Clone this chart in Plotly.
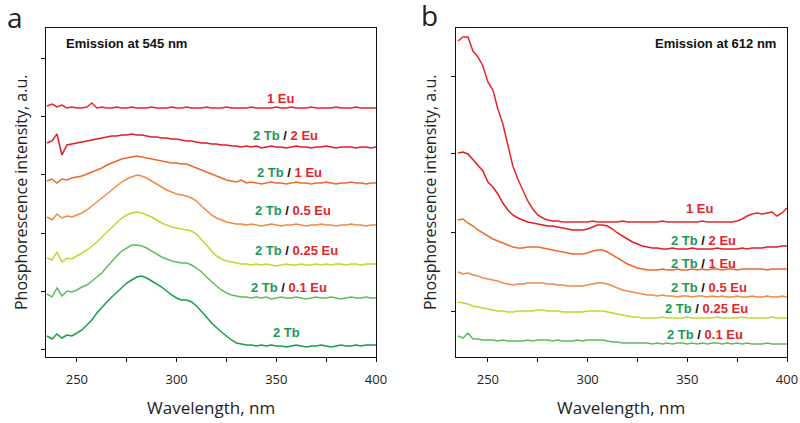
import plotly.graph_objects as go

# Shared excitation wavelength grid (nm)
wavelength = [235, 237.5, 240, 242.5, 245, 247.5, 250, 252.5, 255, 257.5,
              260, 262.5, 265, 267.5, 270, 272.5, 275, 277.5, 280, 282.5,
              285, 287.5, 290, 292.5, 295, 297.5, 300, 302.5, 305, 307.5,
              310, 312.5, 315, 317.5, 320, 322.5, 325, 327.5, 330, 332.5,
              335, 337.5, 340, 342.5, 345, 347.5, 350, 352.5, 355, 357.5,
              360, 362.5, 365, 367.5, 370, 372.5, 375, 377.5, 380, 382.5,
              385, 387.5, 390, 392.5, 395, 397.5, 400]

# Panel a: emission at 545 nm (offset traces, a.u.)
a_1Eu = [251, 253, 250, 252, 249, 250, 249, 249, 250, 254,
         249, 250, 249, 249, 250, 249, 249, 250, 249, 249,
         249, 250, 249, 249, 249, 250, 249, 249, 250, 249,
         249, 249, 250, 249, 249, 249, 250, 249, 249, 249,
         249, 250, 249, 249, 249, 249, 250, 249, 249, 250,
         249, 249, 249, 250, 249, 249, 249, 249, 250, 249,
         249, 249, 250, 249, 249, 249, 249]
a_2Tb_2Eu = [214, 216, 223, 202, 212, 213, 214, 215, 216, 217,
             218, 219, 220, 221, 221, 222, 222, 223, 222, 222,
             221, 220, 220, 219, 219, 218, 218, 217, 216, 216,
             215, 214, 214, 213, 213, 212, 212, 211, 211, 210,
             211, 210, 211, 209, 210, 211, 210, 210, 209, 210,
             211, 210, 210, 209, 210, 210, 211, 210, 209, 210,
             210, 210, 209, 210, 210, 209, 210]
a_2Tb_1Eu = [176, 178, 174, 178, 177, 179, 180, 181, 183, 185,
             187, 189, 192, 194, 196, 198, 199, 200, 201, 200,
             199, 198, 197, 196, 195, 194, 194, 193, 193, 191,
             189, 187, 185, 183, 181, 179, 177, 176, 175, 177,
             174, 175, 174, 173, 174, 175, 174, 174, 173, 174,
             175, 174, 174, 173, 174, 174, 175, 174, 173, 174,
             174, 175, 174, 174, 173, 174, 174]
a_2Tb_05Eu = [140, 137, 143, 139, 141, 140, 142, 144, 147, 151,
              155, 159, 163, 167, 171, 175, 178, 180, 182, 181,
              179, 176, 173, 170, 167, 165, 163, 162, 161, 159,
              156, 151, 146, 142, 139, 137, 135, 134, 133, 133,
              132, 133, 132, 131, 132, 133, 132, 131, 132, 132,
              133, 132, 131, 132, 132, 133, 132, 132, 131, 132,
              132, 133, 132, 132, 131, 132, 132]
a_2Tb_025Eu = [99, 97, 105, 95, 99, 98, 101, 104, 107, 111,
               115, 120, 125, 130, 135, 139, 142, 144, 145, 144,
               142, 140, 137, 134, 132, 130, 129, 128, 127, 126,
               123, 118, 112, 106, 101, 98, 96, 95, 94, 93,
               93, 92, 93, 92, 93, 92, 91, 92, 93, 92,
               92, 93, 92, 92, 93, 92, 93, 92, 93, 93,
               92, 93, 93, 92, 93, 93, 93]
a_2Tb_01Eu = [63, 60, 69, 61, 66, 65, 67, 70, 72, 76,
              80, 84, 90, 96, 101, 106, 109, 112, 112, 111,
              109, 106, 103, 100, 98, 96, 95, 94, 94, 92,
              89, 85, 80, 75, 71, 67, 64, 62, 61, 60,
              60, 59, 60, 59, 60, 58, 59, 60, 59, 59,
              60, 59, 58, 59, 60, 59, 59, 60, 59, 58,
              59, 60, 59, 59, 60, 59, 59]
a_2Tb = [21, 18, 23, 19, 22, 21, 24, 27, 32, 37,
         44, 50, 55, 60, 65, 69, 74, 77, 80, 81,
         79, 76, 73, 70, 66, 62, 59, 57, 57, 55,
         51, 46, 40, 34, 29, 25, 21, 17, 14, 13,
         12, 12, 11, 12, 11, 12, 11, 11, 10, 11,
         12, 11, 10, 11, 11, 12, 11, 10, 11, 12,
         11, 11, 12, 11, 12, 12, 12]

# Panel b: emission at 612 nm
b_1Eu = [316, 320, 320, 306, 300, 291, 275, 267, 248, 233,
         212, 191, 178, 167, 156, 148, 142, 139, 137, 136,
         136, 135, 135, 135, 135, 135, 135, 136, 135, 135,
         135, 135, 135, 136, 135, 135, 135, 135, 135, 135,
         135, 136, 135, 135, 135, 135, 135, 135, 135, 136,
         135, 135, 135, 135, 135, 135, 136, 138, 141, 143,
         144, 143, 144, 145, 141, 144, 149]
b_2Tb_2Eu = [204, 205, 203, 197, 191, 186, 175, 170, 163, 154,
             147, 142, 139, 137, 135, 134, 133, 132, 131, 131,
             130, 129, 128, 127, 127, 127, 128, 130, 132, 132,
             131, 128, 124, 121, 118, 115, 113, 111, 110, 109,
             109, 108, 108, 109, 108, 108, 108, 109, 108, 108,
             108, 108, 109, 108, 108, 108, 108, 109, 108, 109,
             109, 109, 110, 110, 110, 111, 111]
b_2Tb_1Eu = [137, 138, 134, 131, 127, 124, 121, 118, 116, 114,
             112, 110, 109, 109, 110, 110, 110, 109, 108, 107,
             106, 105, 104, 103, 103, 103, 104, 106, 107, 107,
             105, 102, 99, 96, 93, 91, 89, 88, 87, 87,
             87, 88, 87, 87, 88, 87, 87, 88, 87, 88,
             87, 88, 88, 87, 88, 88, 87, 88, 88, 88,
             88, 88, 87, 88, 88, 88, 88]
b_2Tb_05Eu = [85, 83, 84, 82, 81, 79, 78, 77, 76, 74,
              73, 72, 73, 73, 74, 74, 74, 74, 73, 73,
              72, 72, 71, 71, 71, 71, 72, 73, 74, 74,
              73, 71, 69, 67, 66, 65, 64, 63, 62, 62,
              61, 62, 61, 61, 60, 61, 61, 60, 61, 61,
              60, 61, 60, 61, 60, 60, 61, 60, 60, 61,
              60, 60, 61, 60, 60, 61, 60]
b_2Tb_025Eu = [55, 54, 53, 51, 50, 49, 48, 47, 46, 46,
               45, 45, 46, 46, 46, 46, 47, 47, 46, 46,
               46, 45, 45, 45, 45, 45, 46, 46, 46, 46,
               45, 44, 43, 42, 41, 40, 40, 39, 39, 39,
               39, 40, 39, 39, 39, 39, 40, 39, 39, 39,
               39, 39, 40, 39, 39, 39, 39, 40, 39, 39,
               39, 39, 39, 40, 39, 39, 39]
b_2Tb_01Eu = [21, 19, 24, 18, 18, 17, 17, 17, 16, 17,
              16, 16, 16, 16, 17, 16, 17, 17, 17, 16,
              17, 16, 16, 16, 17, 16, 17, 17, 17, 17,
              16, 15, 15, 14, 14, 14, 14, 14, 14, 13,
              14, 13, 14, 13, 14, 14, 13, 14, 13, 14,
              13, 14, 14, 13, 14, 13, 14, 13, 14, 13,
              13, 13, 14, 13, 13, 13, 13]

x_tick_labels = [250, 300, 350, 400]
a_ytick_vals = [8, 66, 124, 183, 241, 299]
b_ytick_vals = [46, 125, 204, 281]

# Series labels: (Tb part, Eu part)
a_labels = [("", "1 Eu"), ("2 Tb", "2 Eu"), ("2 Tb", "1 Eu"), ("2 Tb", "0.5 Eu"),
            ("2 Tb", "0.25 Eu"), ("2 Tb", "0.1 Eu"), ("2 Tb", "")]
b_labels = [("", "1 Eu"), ("2 Tb", "2 Eu"), ("2 Tb", "1 Eu"), ("2 Tb", "0.5 Eu"),
            ("2 Tb", "0.25 Eu"), ("2 Tb", "0.1 Eu")]

GREEN_T = "#1d9a55"
RED_T = "#e3262d"

colors = ["#e8262b", "#e11f23", "#f0672c", "#f28a45", "#c6d52f", "#63bb5e", "#14a04a"]

a_series = [a_1Eu, a_2Tb_2Eu, a_2Tb_1Eu, a_2Tb_05Eu, a_2Tb_025Eu, a_2Tb_01Eu, a_2Tb]
b_series = [b_1Eu, b_2Tb_2Eu, b_2Tb_1Eu, b_2Tb_05Eu, b_2Tb_025Eu, b_2Tb_01Eu]

# label anchor positions (wavelength, intensity)
a_label_pos = [(352.5, 259), (354.5, 222), (356.5, 185), (358.5, 147), (360, 107), (356.5, 70), (355, 25)]
b_label_pos = [(356.5, 149), (358, 117), (358, 94), (361, 70), (359.5, 49), (359, 23)]

fig = go.Figure()
for s, c in zip(a_series, colors):
    fig.add_trace(go.Scatter(x=wavelength, y=s, mode="lines", line=dict(color=c, width=1.5),
                             xaxis="x", yaxis="y", showlegend=False, hoverinfo="skip"))
for s, c in zip(b_series, colors[:6]):
    fig.add_trace(go.Scatter(x=wavelength, y=s, mode="lines", line=dict(color=c, width=1.5),
                             xaxis="x2", yaxis="y2", showlegend=False, hoverinfo="skip"))

def label_text(tb, eu):
    parts = []
    if tb:
        parts.append(f"<span style='color:{GREEN_T}'>{tb}</span>")
    if tb and eu:
        parts.append("<span style='color:#111'>/</span>")
    if eu:
        parts.append(f"<span style='color:{RED_T}'>{eu}</span>")
    return "<b>" + " ".join(parts) + "</b>"

annotations = []
lab_font = dict(family="Liberation Sans, Arial, sans-serif", size=13)
for (tb, eu), (lx, ly) in zip(a_labels, a_label_pos):
    annotations.append(dict(x=lx, y=ly, xref="x", yref="y", text=label_text(tb, eu),
                            showarrow=False, font=lab_font))
for (tb, eu), (lx, ly) in zip(b_labels, b_label_pos):
    annotations.append(dict(x=lx, y=ly, xref="x2", yref="y2", text=label_text(tb, eu),
                            showarrow=False, font=lab_font))

W, H = 800, 423
def px(x, y):
    return x / W, 1 - y / H

# panel letters (compact boxes so they stay inside the page)
for (tx, ty, txt) in [(15, 17, "a"), (429, 15, "b")]:
    xx, yy = px(tx, ty)
    annotations.append(dict(x=xx, y=yy, xref="paper", yref="paper", text=txt,
                            showarrow=False, xanchor="center", yanchor="middle", height=26,
                            font=dict(family="Open Sans, sans-serif", size=28, color="#222")))

for (tx, ty, txt, ang, sz) in [(21, 193, "Phosphorescence intensity, a.u.", -90, 16),
                               (430, 193, "Phosphorescence intensity, a.u.", -90, 16),
                               (211, 407, "Wavelength, nm", 0, 17),
                               (621, 407, "Wavelength, nm", 0, 17)]:
    xx, yy = px(tx, ty)
    annotations.append(dict(x=xx, y=yy, xref="paper", yref="paper", text=txt, textangle=ang,
                            showarrow=False, xanchor="center", yanchor="middle",
                            font=dict(family="Open Sans, sans-serif", size=sz, color="#222")))

for (tx, ty, txt) in [(126, 43, "Emission at 545 nm"), (715, 43, "Emission at 612 nm")]:
    xx, yy = px(tx, ty)
    annotations.append(dict(x=xx, y=yy, xref="paper", yref="paper", text="<b>" + txt + "</b>",
                            showarrow=False, xanchor="center", yanchor="middle",
                            font=dict(family="Liberation Sans, Arial, sans-serif", size=13, color="#111")))

common_x = dict(showline=True, mirror=True, linecolor="#111", linewidth=1, ticks="outside",
                ticklen=4, tickcolor="#111", tickvals=x_tick_labels, showgrid=False, zeroline=False,
                automargin=False, ticklabelstandoff=6,
                tickfont=dict(family="Open Sans, sans-serif", size=13, color="#222"),
                minor=dict(ticks="outside", ticklen=4, tickcolor="#111", tick0=250, dtick=25, showgrid=False))
common_y = dict(showline=True, mirror=True, linecolor="#111", linewidth=1, ticks="outside",
                ticklen=4, tickcolor="#111", showticklabels=False, showgrid=False, zeroline=False,
                automargin=False, range=[0, 329])

fig.update_layout(
    width=W, height=H, margin=dict(l=0, r=0, t=0, b=0, autoexpand=False),
    paper_bgcolor="white", plot_bgcolor="white",
    xaxis=dict(domain=[46 / W, 376 / W], range=[234.5, 400], anchor="y", **common_x),
    yaxis=dict(domain=[1 - 357 / H, 1 - 28 / H], anchor="x", tickvals=a_ytick_vals, **common_y),
    xaxis2=dict(domain=[456 / W, 787 / W], range=[234, 400], anchor="y2", **common_x),
    yaxis2=dict(domain=[1 - 357 / H, 1 - 28 / H], anchor="x2", tickvals=b_ytick_vals, **common_y),
    annotations=annotations,
)

fig.write_html("out.html", config={"displayModeBar": False},
               post_script="document.body.style.margin='0';document.body.style.overflow='hidden';")
